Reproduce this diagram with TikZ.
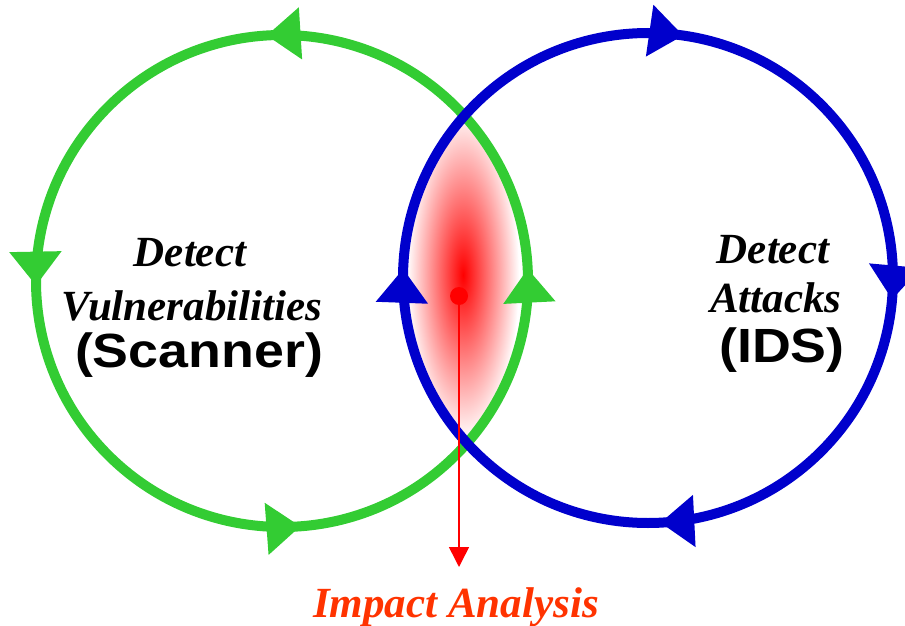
\documentclass[tikz,border=0pt]{standalone}
\usepackage{fontspec}
\setmainfont{Liberation Serif}
\setsansfont{Liberation Sans}
\usetikzlibrary{arrows.meta,decorations.markings}
\definecolor{scangreen}{RGB}{51,204,51}
\definecolor{idsblue}{RGB}{0,0,204}
\definecolor{impactred}{RGB}{255,51,0}
\tikzset{ringhead/.tip={Triangle[length=34pt,width=50pt]}}

\begin{document}
\begin{tikzpicture}[x=1pt,y=-1pt]
    \tikzstyle{every node} = [inner sep=0pt, anchor=base]
    \tikzstyle{ringline} = [line width=10pt, postaction={decorate}]
    \tikzstyle{serifnote} = [font=\bfseries\itshape\fontsize{43}{47}\selectfont]
    \tikzstyle{sansnote} = [font=\sffamily\bfseries\fontsize{48}{52}\selectfont]
    \useasboundingbox (0,0) rectangle (905,626);

    % overlap of the two cycles
    \begin{scope}
        \clip (282,281) circle (246);
        \clip (648,278) circle (245);
        \shade[inner color=red, outer color=white] (463,275) ellipse [x radius=56, y radius=165];
    \end{scope}

    % scanner cycle
    \draw[ringline, scangreen, decoration={markings,
            mark=at position 0.133 with {\arrow{ringhead}},
            mark=at position 0.385 with {\arrow{ringhead}},
            mark=at position 0.628 with {\arrow{ringhead}},
            mark=at position 0.887 with {\arrow{ringhead}}}]
        (282,281) ++(45:246) arc[start angle=45, end angle=-315, radius=246];

    % ids cycle
    \draw[ringline, idsblue, decoration={markings,
            mark=at position 0.139 with {\arrow{ringhead}},
            mark=at position 0.367 with {\arrow{ringhead}},
            mark=at position 0.631 with {\arrow{ringhead}},
            mark=at position 0.898 with {\arrow{ringhead}}}]
        (648,278) ++(-45:245) arc[start angle=-45, end angle=315, radius=245];

    \foreach \name/\x/\y/\txt in {vdetect/190/266/Detect, vulner/192/320/Vulnerabilities,
            adetect/773/263/Detect, attacks/776/312/Attacks}
        \node[serifnote] (\name) at (\x,\y) {\txt};
    \node[sansnote] (scanner) at (199,367) {\scalebox{1.12}[1]{(Scanner)}};
    \node[sansnote] (ids) at (782,362) {\scalebox{1.12}[1]{(IDS)}};

    \node[circle, fill=red, minimum size=18pt, anchor=center] (hit) at (459,296) {};
    \coordinate (hitend) at (459,567);
    \draw[red, line width=1.5pt, -{Triangle[length=20pt,width=20pt]}] (hit) -- (hitend);
    \node[serifnote, impactred] (impact) at (456,617) {Impact Analysis};
\end{tikzpicture}
\end{document}
